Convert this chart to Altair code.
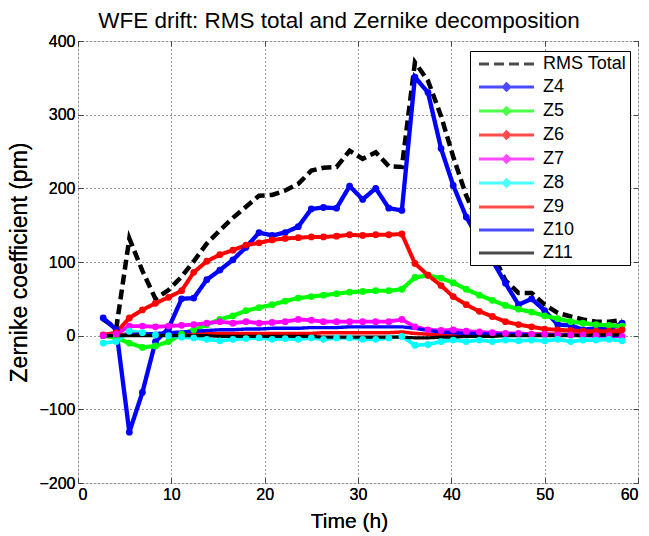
import altair as alt
import pandas as pd

FONT = "Liberation Sans"

time_h = [2.7, 4.1, 5.5, 6.9, 8.3, 9.7, 11.1, 12.4, 13.8, 15.2, 16.6, 18.0, 19.4, 20.8,
          22.2, 23.6, 25.0, 26.3, 27.7, 29.1, 30.5, 31.9, 33.3, 34.7, 36.1, 37.5, 38.9,
          40.2, 41.6, 43.0, 44.4, 45.8, 47.2, 48.6, 50.0, 51.4, 52.8, 54.1, 55.5, 56.9, 58.3]

rms_total = [22, 10, 132, 88, 50, 62, 80, 101, 125, 143, 160, 175, 190, 191, 197, 206, 224,
             228, 229, 251, 240, 249, 230, 229, 371, 346, 298, 243, 190, 150, 112, 75, 58,
             58, 42, 31, 26, 22, 19, 19, 21]
z4 = [24, 8, -131, -77, -8, 10, 50, 51, 76, 89, 103, 120, 140, 136, 140, 148, 172, 174, 173,
      203, 185, 200, 173, 170, 351, 330, 254, 204, 161, 130, 102, 71, 42, 50, 34, 15, 14, 8,
      10, 9, 17]
z5 = [0, -3, -10, -16, -14, -8, 2, 8, 15, 22, 27, 34, 38, 42, 47, 51, 53, 55, 57, 59, 60, 61,
      61, 63, 79, 82, 78, 72, 63, 55, 48, 41, 36, 32, 27, 23, 19, 17, 15, 14, 13]
z6 = [1, 4, 24, 35, 44, 52, 61, 86, 101, 110, 116, 123, 126, 130, 132, 133, 134, 134, 135,
      137, 136, 137, 137, 138, 98, 82, 68, 53, 42, 33, 26, 19, 15, 12, 9, 8, 7, 6, 6, 6, 8]
z7 = [0, 2, 13, 13, 12, 13, 14, 15, 17, 19, 17, 19, 17, 18, 19, 22, 21, 19, 19, 19, 19, 19,
      19, 22, 12, 8, 7, 8, 6, 5, 4, 3, 3, 2, 2, 1, 1, 1, 0, 0, -1]
z8 = [-10, -8, 6, 4, 1, 0, -2, -3, -5, -7, -5, -4, -3, -5, -4, -5, -3, -5, -3, -3, -5, -5,
      -3, -1, -13, -12, -8, -6, -8, -6, -8, -6, -7, -6, -7, -5, -8, -6, -6, -5, -7]
z9 = [0, 1, 2, 2, 2, 2, 3, 3, 3, 3, 3, 3, 3, 3, 3, 3, 3, 4, 4, 4, 4, 4, 4, 5, 3, 2, 1, 1, 1,
      1, 1, 1, 1, 2, 2, 2, 2, 2, 2, 3, 3]
z10 = [0, 0, 1, 2, 3, 4, 5, 6, 7, 8, 8, 9, 9, 10, 10, 10, 11, 11, 11, 12, 12, 12, 12, 12, 10,
       7, 5, 4, 3, 3, 2, 2, 2, 1, 1, 1, 1, 0, 0, 0, 0]
z11 = [0, 0, 0, 0, 0, 0, 0, 0, 0, -1, -1, -1, -1, -1, -1, -1, -1, -2, -2, -2, -2, -2, -2, -2,
       -3, -3, -2, -2, -1, -1, -1, 0, 0, 0, 0, 0, 0, 0, 1, 1, 1]

series_names = ["RMS Total", "Z4", "Z5", "Z6", "Z7", "Z8", "Z9", "Z10", "Z11"]
series_values = [rms_total, z4, z5, z6, z7, z8, z9, z10, z11]
series_colors = ["#000000", "#0000ff", "#00ff00", "#ff0000", "#ff00ff", "#00ffff",
                 "#ff0000", "#0000ff", "#000000"]
marker_series = ["Z4", "Z5", "Z6", "Z7", "Z8"]

x_ticks = [0, 10, 20, 30, 40, 50, 60]
y_ticks = [-200, -100, 0, 100, 200, 300, 400]

rows = []
for name, vals in zip(series_names, series_values):
    for t, v in zip(time_h, vals):
        rows.append({"t": t, "v": v, "series": name})
df = pd.DataFrame(rows)

W, H = 560, 442

color_scale = alt.Scale(domain=series_names, range=series_colors)
dash_scale = alt.Scale(domain=series_names, range=[[10, 5]] + [[1, 0]] * 8)
width_scale = alt.Scale(domain=series_names, range=[4.5] + [3.2] * 8)

line_path = "M-0.5,0L6.375,0"
dot_path = "M-0.5,0L6.375,0M2.565,0L2.94,-0.375L3.315,0L2.94,0.375Z"
shape_range = [line_path if n not in marker_series else dot_path for n in series_names]
shape_scale = alt.Scale(domain=series_names, range=shape_range)

xs = alt.Scale(domain=[0, 60], nice=False, zero=False)
ys = alt.Scale(domain=[-200, 400], nice=False, zero=False)

main_x_axis = alt.Axis(values=x_ticks, title="Time (h)", orient="bottom", offset=-5,
                       grid=True, gridDash=[1, 3], gridColor="#777", gridWidth=1,
                       ticks=True, tickSize=5, tickColor="#444", domain=False,
                       labelFont=FONT, labelFontSize=16, labelColor="black", labelPadding=3,
                       titleFont=FONT, titleFontSize=21, titleFontWeight="normal",
                       titleColor="black", titlePadding=8, titleX=271)
main_y_axis = alt.Axis(values=y_ticks, title="Zernike coefficient (pm)", orient="left",
                       offset=-5, grid=True, gridDash=[1, 3], gridColor="#777", gridWidth=1,
                       ticks=True, tickSize=5, tickColor="#444", domain=False,
                       labelFont=FONT, labelFontSize=16, labelColor="black", labelPadding=3,
                       titleFont=FONT, titleFontSize=23, titleFontWeight="normal",
                       titleColor="black", titlePadding=7)

base = alt.Chart(df)

lines = base.mark_line().encode(
    x=alt.X("t:Q", scale=xs, axis=main_x_axis),
    y=alt.Y("v:Q", scale=ys, axis=main_y_axis),
    color=alt.Color("series:N", scale=color_scale, legend=None),
    strokeDash=alt.StrokeDash("series:N", scale=dash_scale, legend=None),
    strokeWidth=alt.StrokeWidth("series:N", scale=width_scale, legend=None),
    detail="series:N",
)

points = base.transform_filter(
    alt.FieldOneOfPredicate(field="series", oneOf=marker_series)
).mark_circle(size=46, opacity=1).encode(
    x=alt.X("t:Q", scale=xs, axis=main_x_axis),
    y=alt.Y("v:Q", scale=ys, axis=main_y_axis),
    color=alt.Color("series:N", scale=color_scale, legend=None),
)

legend = alt.Legend(title=None, orient="none", legendX=392, legendY=10,
                    strokeColor="black", fillColor="white", padding=3,
                    symbolSize=256, symbolStrokeWidth=3.2, labelOffset=50,
                    labelFont=FONT, labelFontSize=18, labelColor="black",
                    rowPadding=4, cornerRadius=0)

aux = base.transform_filter("datum.t < -1000").mark_point(filled=False).encode(
    x=alt.X("t:Q", scale=xs, axis=alt.Axis(values=x_ticks, orient="top", offset=-5,
                                           labels=False, title=None, grid=False,
                                           domain=False, ticks=True, tickSize=5,
                                           tickColor="#444")),
    y=alt.Y("v:Q", scale=ys, axis=alt.Axis(values=y_ticks, orient="right", offset=-5,
                                           labels=False, title=None, grid=False,
                                           domain=False, ticks=True, tickSize=5,
                                           tickColor="#444")),
    color=alt.Color("series:N", scale=color_scale, legend=legend),
    shape=alt.Shape("series:N", scale=shape_scale, legend=legend),
    strokeDash=alt.StrokeDash("series:N", scale=dash_scale, legend=legend),
)

chart = alt.layer(lines, points, aux).resolve_axis(
    x="independent", y="independent"
).resolve_scale(
    color="independent", strokeDash="independent", shape="independent",
    strokeWidth="independent"
).resolve_legend(
    color="independent", strokeDash="independent", shape="independent",
    strokeWidth="independent"
).properties(
    width=W, height=H,
    title=alt.TitleParams("WFE drift: RMS total and Zernike decomposition", font=FONT,
                          fontSize=22.5, fontWeight="normal", color="black",
                          anchor="middle", dx=-19, dy=3),
    autosize=alt.AutoSizeParams(type="none"),
    padding={"left": 78, "top": 41, "right": 11, "bottom": 53},
).configure_view(stroke="#444", strokeWidth=1.2).configure(background="white")

chart.save("out.html", embed_options={"renderer": "svg", "actions": False})
